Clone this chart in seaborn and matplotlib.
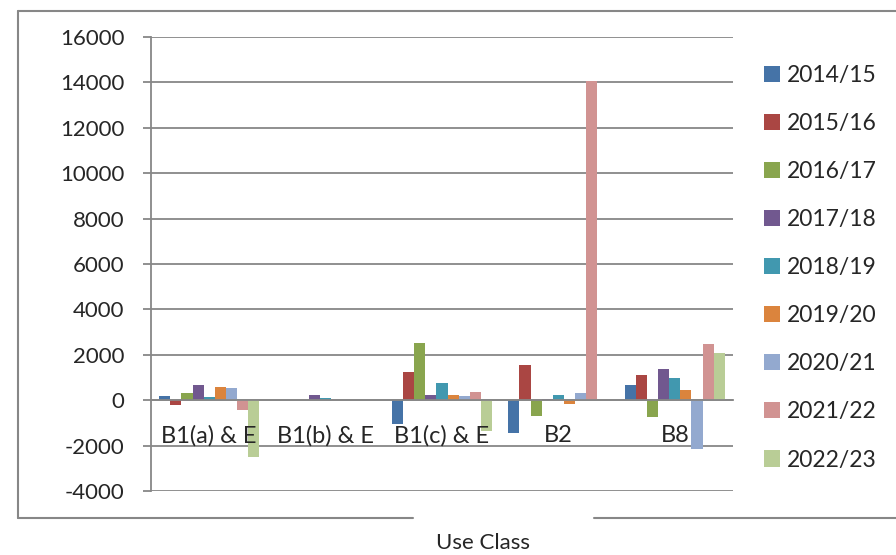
import seaborn as sns
import matplotlib.pyplot as plt
import pandas as pd
from matplotlib.lines import Line2D

# Use classes and monitoring years
categories = ['B1(a) & E', 'B1(b) & E', 'B1(c) & E', 'B2', 'B8']
years = ['2014/15', '2015/16', '2016/17', '2017/18', '2018/19',
         '2019/20', '2020/21', '2021/22', '2022/23']

# net floorspace change per use class, one list per year
y2014_15 = [200, 0, -1030, -1440, 660]
y2015_16 = [-220, 0, 1230, 1570, 1090]
y2016_17 = [320, 0, 2500, -700, -760]
y2017_18 = [660, 230, 220, 40, 1380]
y2018_19 = [160, 90, 760, 220, 970]
y2019_20 = [570, 0, 230, -170, 430]
y2020_21 = [530, 0, 180, 310, -2170]
y2021_22 = [-440, 0, 350, 14080, 2470]
y2022_23 = [-2520, 0, -1350, 0, 2060]
series = [y2014_15, y2015_16, y2016_17, y2017_18, y2018_19,
          y2019_20, y2020_21, y2021_22, y2022_23]

colors = ['#4573A7', '#AA4643', '#89A54E', '#71588F', '#4198AF',
          '#DB843D', '#93A9CF', '#D19392', '#B9CD96']

rows = []
for yr, vals in zip(years, series):
    for cat, v in zip(categories, vals):
        rows.append({'use_class': cat, 'year': yr, 'value': v})
df = pd.DataFrame(rows)

sns.set_style('white')
plt.rcParams['font.family'] = ['Lato', 'DejaVu Sans']
plt.rcParams['axes.unicode_minus'] = False
grey = '#878787'
fs = 16

fig = plt.figure(figsize=(8.96, 5.55), dpi=100)
ax = fig.add_axes([151 / 896, 1 - 491 / 555, (733 - 151) / 896, (491 - 37) / 555])

sns.barplot(data=df, x='use_class', y='value', hue='year', hue_order=years,
            palette=colors, width=0.86, saturation=1, linewidth=0, ax=ax)

ax.set_ylim(-4000, 16000)
ax.set_xlim(-0.5, 4.5)
ax.set_yticks(range(-4000, 16001, 2000))
ax.yaxis.grid(True, color=grey, lw=1.3)
ax.set_axisbelow(True)
# category labels sit on top of the bars
ax.xaxis.set_zorder(2.5)

for s in ['top', 'right']:
    ax.spines[s].set_visible(False)
ax.spines['left'].set_color(grey)
ax.spines['left'].set_linewidth(1.3)
ax.spines['bottom'].set_position(('data', 0))
ax.spines['bottom'].set_color(grey)
ax.spines['bottom'].set_linewidth(1.3)

# ticks at category boundaries, labels at centres
ax.set_xticks([-0.5, 0.5, 1.5, 2.5, 3.5, 4.5])
ax.set_xticklabels([])
ax.set_xticks(range(len(categories)), minor=True)
ax.set_xticklabels(categories, minor=True)
ax.tick_params(axis='x', which='major', direction='out', length=6, width=1.3, color=grey)
ax.tick_params(axis='x', which='minor', length=0, pad=18, labelsize=17)
ax.tick_params(axis='y', direction='out', length=6, width=1.3, color=grey,
               pad=13, labelsize=fs, left=True)
ax.set_xlabel('')
ax.set_ylabel('')

handles, labels = ax.get_legend_handles_labels()
ax.legend(handles, labels, loc='upper left', bbox_to_anchor=(755 / 896, 1 - 56 / 555),
          bbox_transform=fig.transFigure, frameon=False, fontsize=16.5,
          handlelength=0.7, handleheight=0.7, handletextpad=0.3,
          labelspacing=1.18, borderaxespad=0)

fig.text(483 / 896, 1 - 543 / 555, 'Use Class', ha='center', va='center', fontsize=fs)

# chart area border (open on the right, gap at the bottom)
def fx(px):
    return px / 896

def fy(py):
    return 1 - py / 555

for xs, ys in [([18, 18], [11, 518]), ([18, 896], [11, 11]),
               ([18, 413], [518, 518]), ([594, 896], [518, 518])]:
    fig.add_artist(Line2D([fx(x) for x in xs], [fy(y) for y in ys],
                          color=grey, lw=1.5, transform=fig.transFigure))

fig.savefig('out.png', dpi=100)
